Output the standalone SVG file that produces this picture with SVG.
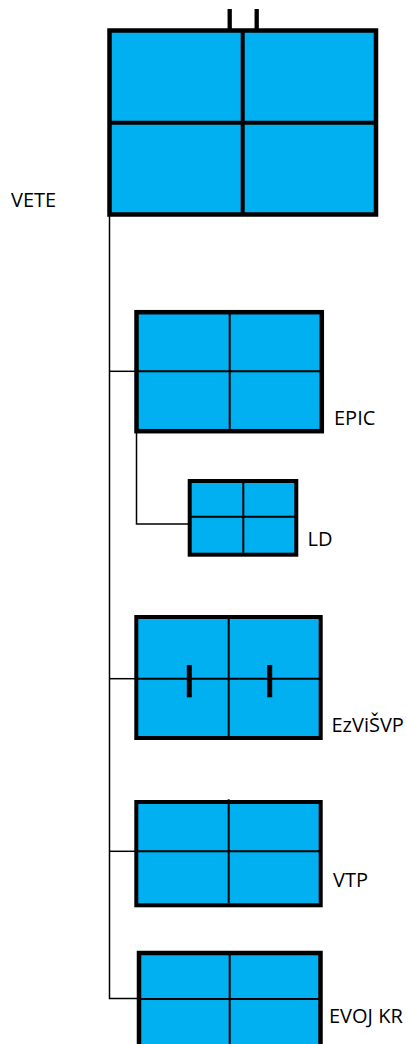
<svg xmlns="http://www.w3.org/2000/svg" width="407" height="1044" viewBox="0 0 407 1044">
<style>
.box{fill:#00B0F0;stroke:#000;}
.in{stroke:#000;stroke-width:2;fill:none;}
.conn{stroke:#000;stroke-width:1.5;fill:none;}
.lbl{font-family:"Open Sans","Liberation Sans",sans-serif;font-size:20px;fill:#000;}
</style>
<rect width="407" height="1044" fill="#fff"/>
<g id="connectors">
<path class="conn" d="M109.5,216 V998.5 H137"/>
<path class="conn" d="M109.5,371.3 H136"/>
<path class="conn" d="M109.5,678.7 H136"/>
<path class="conn" d="M109.5,851.3 H136"/>
<path class="conn" d="M136.5,433 V524 H189"/>
</g>
<g id="vete">
<line x1="229.7" y1="9" x2="229.7" y2="31" stroke="#000" stroke-width="4.3"/>
<line x1="256.7" y1="9" x2="256.7" y2="31" stroke="#000" stroke-width="4.3"/>
<rect class="box" x="109.5" y="30.5" width="266.5" height="184" stroke-width="4.5"/>
<line x1="242.7" y1="30.5" x2="242.7" y2="214.5" stroke="#000" stroke-width="4"/>
<line x1="109.5" y1="122.7" x2="376" y2="122.7" stroke="#000" stroke-width="4"/>
<text class="lbl" x="11" y="207.3">VETE</text>
</g>
<g id="epic">
<rect class="box" x="136.5" y="312.2" width="185.3" height="119" stroke-width="4.5"/>
<line class="in" x1="229.7" y1="312.2" x2="229.7" y2="431.2"/>
<line class="in" x1="136.5" y1="371.3" x2="321.8" y2="371.3"/>
<text class="lbl" x="334" y="425">EPIC</text>
</g>
<g id="ld">
<rect class="box" x="189.7" y="481" width="106.6" height="73.7" stroke-width="4"/>
<line class="in" x1="243.3" y1="481" x2="243.3" y2="554.7"/>
<line class="in" x1="189.7" y1="516.7" x2="296.3" y2="516.7"/>
<text class="lbl" x="307.5" y="545.7">LD</text>
</g>
<g id="ezvisvp">
<rect class="box" x="136.3" y="617" width="184.4" height="121" stroke-width="4"/>
<line class="in" x1="228.7" y1="617" x2="228.7" y2="738"/>
<line class="in" x1="136.3" y1="678.7" x2="320.7" y2="678.7"/>
<line x1="189.3" y1="665" x2="189.3" y2="697.3" stroke="#000" stroke-width="5"/>
<line x1="269.7" y1="665" x2="269.7" y2="697.3" stroke="#000" stroke-width="5"/>
<text class="lbl" x="331.5" y="731.7">EzViŠVP</text>
</g>
<g id="vtp">
<rect class="box" x="136.3" y="802" width="184.4" height="103.3" stroke-width="4"/>
<line class="in" x1="228.7" y1="799.3" x2="228.7" y2="903"/>
<line class="in" x1="136.3" y1="851.3" x2="320.7" y2="851.3"/>
<text class="lbl" x="333" y="886.7">VTP</text>
</g>
<g id="evojkr">
<rect class="box" x="139" y="953" width="181.5" height="100" stroke-width="4.5"/>
<line class="in" x1="229.7" y1="953" x2="229.7" y2="1053"/>
<line class="in" x1="139" y1="999" x2="320.5" y2="999"/>
<text class="lbl" x="329" y="1023.3">EVOJ KR</text>
</g>
</svg>
